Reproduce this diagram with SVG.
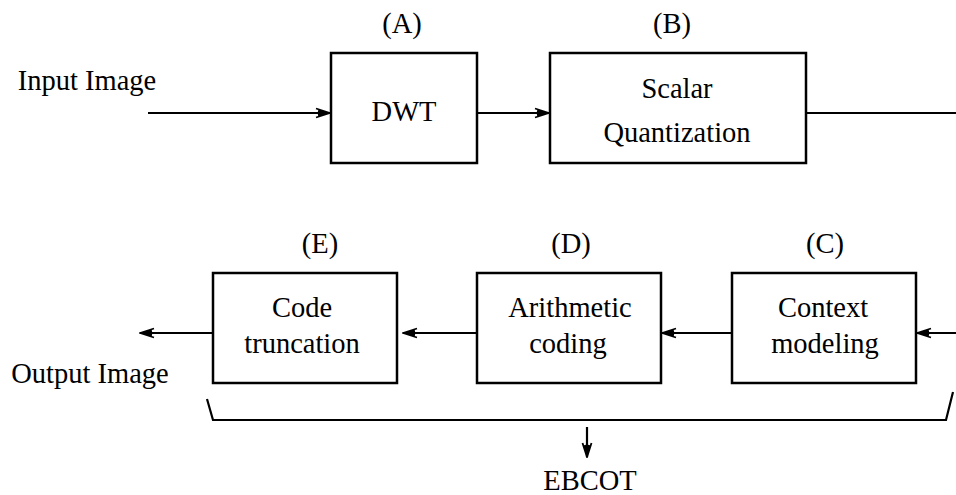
<svg xmlns="http://www.w3.org/2000/svg" width="956" height="495" viewBox="0 0 956 495">
<style>
text{font-family:"Liberation Serif","Times New Roman",serif;font-size:28.5px;fill:#000;text-anchor:middle}
.box{fill:#fff;stroke:#000;stroke-width:2.5}
.ln{fill:none;stroke:#000;stroke-width:2.2}
</style>
<defs>
<marker id="ah" viewBox="0 0 16 12" refX="15" refY="6" markerWidth="16" markerHeight="12" markerUnits="userSpaceOnUse" orient="auto">
<path d="M1,1.5 L15,6 L1,10.5 M3,4 L14,6 L3,8" fill="none" stroke="#000" stroke-width="1.8"/>
</marker>
</defs>
<rect width="956" height="495" fill="#fff"/>
<g id="connectors">
<line class="ln" x1="148" y1="113" x2="330" y2="113" marker-end="url(#ah)"/>
<line class="ln" x1="477" y1="113" x2="549" y2="113" marker-end="url(#ah)"/>
<line class="ln" x1="806" y1="113" x2="956" y2="113"/>
<line class="ln" x1="956" y1="333" x2="917" y2="333" marker-end="url(#ah)"/>
<line class="ln" x1="732" y1="333" x2="662" y2="333" marker-end="url(#ah)"/>
<line class="ln" x1="477" y1="333" x2="403" y2="333" marker-end="url(#ah)"/>
<line class="ln" x1="213" y1="333" x2="140" y2="333" marker-end="url(#ah)"/>
<polyline class="ln" points="207,399 213,420 946,420 953,392"/>
<line class="ln" x1="587" y1="427" x2="587" y2="457" marker-end="url(#ah)"/>
</g>
<g id="labels">
<text x="87" y="90">Input Image</text>
<text x="90" y="383">Output Image</text>
<text x="590" y="490">EBCOT</text>
</g>
<g id="nodeA">
<rect class="box" x="331" y="53" width="146" height="110"/>
<text x="402" y="33">(A)</text>
<text x="404" y="121" style="font-family:'Liberation Serif',serif">DWT</text>
</g>
<g id="nodeB">
<rect class="box" x="550" y="53" width="256" height="110"/>
<text x="672" y="33">(B)</text>
<text x="677" y="98" style="font-family:'Liberation Serif',serif">Scalar</text>
<text x="677" y="142" style="font-family:'Liberation Serif',serif">Quantization</text>
</g>
<g id="nodeC">
<rect class="box" x="732" y="273" width="184" height="110"/>
<text x="825" y="253">(C)</text>
<text x="823" y="317" style="font-family:'Liberation Serif',serif">Context</text>
<text x="825" y="353" style="font-family:'Liberation Serif',serif">modeling</text>
</g>
<g id="nodeD">
<rect class="box" x="477" y="273" width="184" height="110"/>
<text x="571" y="253">(D)</text>
<text x="570" y="317" style="font-family:'Liberation Serif',serif">Arithmetic</text>
<text x="568" y="353" style="font-family:'Liberation Serif',serif">coding</text>
</g>
<g id="nodeE">
<rect class="box" x="213" y="273" width="184" height="110"/>
<text x="320" y="253">(E)</text>
<text x="302" y="317" style="font-family:'Liberation Serif',serif">Code</text>
<text x="302" y="353" style="font-family:'Liberation Serif',serif">truncation</text>
</g>
</svg>
